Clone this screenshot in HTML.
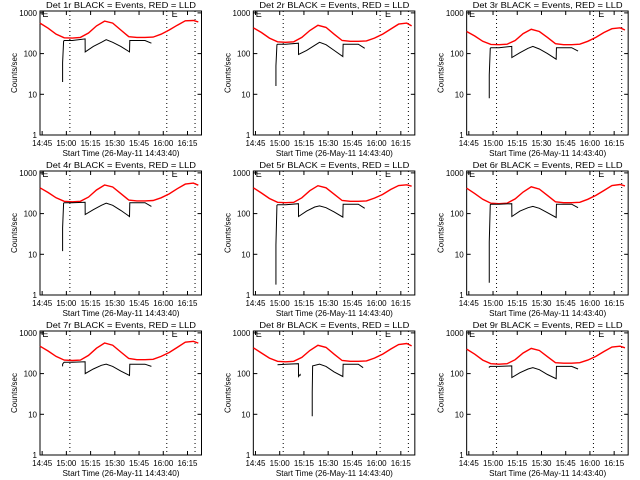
<!DOCTYPE html>
<html><head><meta charset="utf-8"><style>
html,body{margin:0;padding:0;background:#fff;}
svg{display:block;}
text{font-family:"Liberation Sans",sans-serif;fill:#000;}
</style></head>
<body>
<svg id="chart" width="640" height="480" viewBox="0 0 640 480"></svg>
<script>
// Data: time in minutes since 14:43:40 (null value = gap in data)
const redTimes = [0,5,10,15,20,25,30,35,40,45,50,55,60,65,70,75,80,85,90,95,98];
const redP1 = [560,420,300,245,240,250,320,480,630,560,380,260,250,250,255,300,380,500,640,650,600];
const redP2 = [430,330,240,195,190,195,250,370,495,440,300,210,200,200,205,240,300,400,530,560,480];
const redP3 = [350,270,200,168,165,170,210,310,395,350,250,175,165,165,170,200,250,330,410,430,380];
const redP4 = [430,330,245,200,195,200,255,380,505,450,310,215,205,205,210,245,305,410,530,560,500];
const redP5 = [430,320,235,190,185,190,245,365,485,430,300,210,200,200,205,240,295,390,490,510,470];
const redP6 = [420,310,225,180,175,180,230,340,455,400,280,195,185,185,190,225,280,370,490,520,480];
const redP7 = [470,360,265,215,210,215,280,420,565,500,340,235,220,220,225,265,330,440,590,620,560];
const redP8 = [430,320,240,200,195,200,250,370,495,440,300,210,200,200,205,240,300,400,520,550,480];
const redP9 = [400,300,215,175,170,175,220,320,415,370,260,185,180,180,185,215,265,350,450,470,430];

const blkTimes = [14,14,14.6,15,20,27.9,28,33,38,41,45,50,55.4,55.6,60,65,69];
const blkP1 = [20,60,200,210,210,230,110,150,190,220,190,150,110,210,210,210,180];
const blkP2 = [16,50,165,170,170,180,95,120,160,190,165,120,85,170,170,170,135];
const blkP3 = [8,30,135,140,140,150,80,105,135,150,130,100,73,140,140,140,115];
const blkP4 = [12,45,180,185,185,190,95,125,160,180,160,120,85,185,185,185,150];
const blkP5 = [1.8,17,160,165,165,175,85,115,145,155,140,110,82,170,170,170,135];
const blkP6 = [2,20,165,170,170,175,85,115,140,150,135,105,80,170,170,170,140];
const blkP7 = [150,170,185,190,190,195,100,130,160,170,150,115,90,170,170,170,150];
const blkP8Times = [15,20,27.9,28,29,29.2,33,36.5,36.5,36.7,41,45,50,55.4,55.6,60,65,68];
const blkP8 = [165,170,175,85,95,90,null,9,35,155,170,150,110,85,170,170,170,140];
const blkP9 = [140,145,150,150,150,155,80,105,130,140,125,95,75,150,150,150,130];

const titles = ["Det 1r","Det 2r","Det 3r","Det 4r","Det 5r","Det 6r","Det 7r","Det 8r","Det 9r"];
const reds = [redP1,redP2,redP3,redP4,redP5,redP6,redP7,redP8,redP9];
const blks = [blkP1,blkP2,blkP3,blkP4,blkP5,blkP6,blkP7,blkP8,blkP9];
const blkT = [blkTimes,blkTimes,blkTimes,blkTimes,blkTimes,blkTimes,blkTimes,blkP8Times,blkTimes];
const xTickLabels = ["14:45","15:00","15:15","15:30","15:45","16:00","16:15"];
const xTickTimes = [1.33,16.33,31.33,46.33,61.33,76.33,91.33];
const yTickVals = [1,10,100,1000];
const markerTimes = [18.5,78.5,96];

const NS = "http://www.w3.org/2000/svg";
const svg = document.getElementById('chart');
const L=40, R=201.5, T=11, B=135, TMAX=100;
const xs = t => L + (R-L)*t/TMAX;
const ys = v => B - Math.log10(v)*40.7;
function mk(tag, attrs, parent){const e=document.createElementNS(NS,tag);for(const k in attrs)e.setAttribute(k,attrs[k]);parent.appendChild(e);return e;}
function pathD(ts, vs){
  let d='', pen=false;
  ts.forEach((t,k)=>{
    const v=vs[k];
    if(v===null){pen=false;return;}
    d+=(pen?'L':'M')+xs(t).toFixed(1)+','+ys(v).toFixed(1)+' ';
    pen=true;
  });
  return d;
}

for(let i=0;i<9;i++){
  const col=i%3,row=Math.floor(i/3);
  const g=mk('g',{transform:`translate(${(col*213.33).toFixed(2)},${row*160})`},svg);
  
  
  const tt=mk('text',{x:121,y:8,'font-size':8.5,'text-anchor':'middle',textLength:150,lengthAdjust:'spacingAndGlyphs'},g);
  tt.textContent=titles[i]+" BLACK = Events, RED = LLD";
  
  
  const box=mk('rect',{x:L,y:T,width:R-L,height:B-T,fill:'none',stroke:'#000','stroke-width':1},g);
  
  
  yTickVals.forEach(v=>{
    const y=ys(v);
    mk('line',{x1:L,x2:L+4,y1:y,y2:y,stroke:'#000'},g);
    mk('line',{x1:R-4,x2:R,y1:y,y2:y,stroke:'#000'},g);
    const lab=mk('text',{x:L-3,y:y+3,'font-size':8,'text-anchor':'end'},g);
    lab.textContent=String(v);
    
    
  });
  xTickTimes.forEach((t,k)=>{
    const x=xs(t);
    mk('line',{x1:x,x2:x,y1:B,y2:B-4,stroke:'#000'},g);
    mk('line',{x1:x,x2:x,y1:T,y2:T+4,stroke:'#000'},g);
    const lab=mk('text',{x:x,y:146,'font-size':8,'text-anchor':'middle'},g);
    lab.textContent=xTickLabels[k];
    
    
  });
  const xl=mk('text',{x:121,y:156,'font-size':8.5,'text-anchor':'middle',textLength:117,lengthAdjust:'spacingAndGlyphs'},g);
  xl.textContent="Start Time (26-May-11 14:43:40)";
  
  
  const yl=mk('text',{x:0,y:0,'font-size':8,'text-anchor':'middle',transform:'translate(17,73) rotate(-90)'},g);
  yl.textContent="Counts/sec";
  
  
  markerTimes.forEach(t=>{
    const dl=mk('line',{x1:xs(t),x2:xs(t),y1:T,y2:B,stroke:'#000','stroke-dasharray':'1,3'},g);
    
    
  });
  [1.5,81.5].forEach(t=>{
    const e=mk('text',{x:xs(t),y:T+6,'font-size':9},g);
    e.textContent="E";
    
    
  });
  const rp=mk('path',{d:pathD(redTimes,reds[i]),fill:'none',stroke:'#f00','stroke-width':1.4},g);
  
  
  const bp=mk('path',{d:pathD(blkT[i],blks[i]),fill:'none',stroke:'#000','stroke-width':1},g);
  
  
}
</script>
</body></html>
